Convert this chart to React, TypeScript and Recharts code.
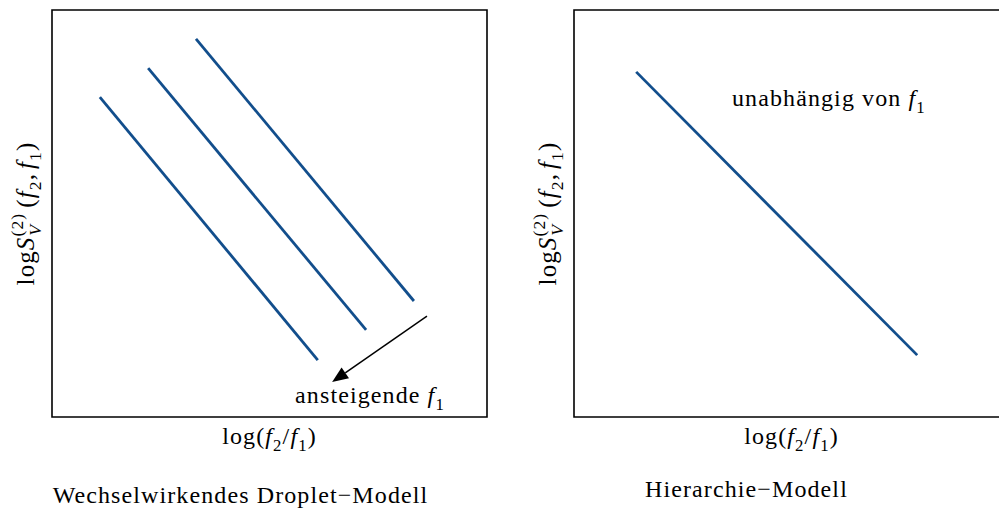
import React from "react";
import {
  LineChart,
  Line,
  XAxis,
  YAxis,
  ReferenceArea,
  ReferenceLine,
  ReferenceDot,
} from "recharts";

// values, both axes in arbitrary units 0..10
const dropletLow = [
  { x: 1.1, y: 7.86 },
  { x: 6.11, y: 1.4 },
];
const dropletMid = [
  { x: 2.21, y: 8.57 },
  { x: 7.22, y: 2.14 },
];
const dropletHigh = [
  { x: 3.31, y: 9.29 },
  { x: 8.32, y: 2.85 },
];
const hierarchyLine = [
  { x: 1.43, y: 8.48 },
  { x: 7.89, y: 1.52 },
];
const arrowSegment = [
  { x: 8.62, y: 2.48 },
  { x: 6.44, y: 0.86 },
];

const FONT = "'Liberation Serif', 'DejaVu Serif', serif";
const BLUE = "#124e8c";
const SIZE = 24;
const SPACING = 1.1;

type Seg = { t: string; i?: boolean; sub?: boolean; sup?: boolean; dx?: number };

const xLabelSegs: Seg[] = [
  { t: "log(" },
  { t: "f", i: true },
  { t: "2", sub: true },
  { t: "/" },
  { t: "f", i: true },
  { t: "1", sub: true },
  { t: ")" },
];
const yLabelSegs: Seg[] = [
  { t: "log" },
  { t: "S", i: true },
  { t: "(2)", sup: true },
  { t: "V", i: true, sub: true, dx: -23 },
  { t: " (", dx: 9 },
  { t: "f", i: true },
  { t: "2", sub: true },
  { t: "," },
  { t: "f", i: true, dx: 4 },
  { t: "1", sub: true },
  { t: ")" },
];

function MathText({ x, y, segs, size = SIZE, anchor = "middle", rotate = false }: any) {
  let shift = 0;
  const spans = segs.map((s: Seg, k: number) => {
    const target = s.sub ? size * 0.28 : s.sup ? -size * 0.45 : 0;
    const dy = target - shift;
    shift = target;
    return (
      <tspan
        key={k}
        dy={dy}
        dx={s.dx}
        fontStyle={s.i ? "italic" : "normal"}
        fontSize={s.sub || s.sup ? size * 0.7 : size}
      >
        {s.t}
      </tspan>
    );
  });
  return (
    <text
      x={x}
      y={y}
      textAnchor={anchor}
      fontFamily={FONT}
      fontSize={size}
      letterSpacing={SPACING}
      fill="#000"
      transform={rotate ? `rotate(-90 ${x} ${y})` : undefined}
    >
      {spans}
    </text>
  );
}

function XLabel({ viewBox, title, titleDx, titleDy }: any) {
  const cx = viewBox.x + viewBox.width / 2;
  return (
    <g>
      <MathText x={cx} y={viewBox.y + 27} segs={xLabelSegs} />
      <text
        x={cx + titleDx}
        y={viewBox.y + titleDy}
        textAnchor="middle"
        fontFamily={FONT}
        fontSize={SIZE}
        letterSpacing={SPACING}
        fill="#000"
      >
        {title}
      </text>
    </g>
  );
}

function YLabel({ viewBox }: any) {
  return (
    <MathText
      x={viewBox.x + 34}
      y={viewBox.y + viewBox.height / 2}
      segs={yLabelSegs}
      size={25}
      rotate
    />
  );
}

function NoteLabel({ viewBox, text }: any) {
  return (
    <MathText
      x={viewBox.x}
      y={viewBox.y}
      segs={[{ t: text + " " }, { t: "f", i: true }, { t: "1", sub: true }]}
    />
  );
}

function Arrow(props: any) {
  const { x1, y1, x2, y2 } = props;
  const a = Math.atan2(y2 - y1, x2 - x1);
  const len = 16;
  const hw = 6.5;
  const bx = x2 - len * Math.cos(a);
  const by = y2 - len * Math.sin(a);
  const px = -Math.sin(a) * hw;
  const py = Math.cos(a) * hw;
  return (
    <g>
      <line x1={x1} y1={y1} x2={bx} y2={by} stroke="#000" strokeWidth={1.5} />
      <polygon
        points={`${x2},${y2} ${bx + px},${by + py} ${bx - px},${by - py}`}
        fill="#000"
      />
    </g>
  );
}

function Panel({ width, lines, title, titleDx, titleDy, children }: any) {
  return (
    <LineChart
      width={width}
      height={510}
      margin={{ top: 10, right: width === 500 ? 13 : 0, bottom: 0, left: 0 }}
    >
      <XAxis
        type="number"
        dataKey="x"
        domain={[0, 10]}
        allowDataOverflow
        tick={false}
        tickLine={false}
        axisLine={false}
        height={93}
        label={<XLabel title={title} titleDx={titleDx} titleDy={titleDy} />}
      />
      <YAxis
        type="number"
        dataKey="y"
        domain={[0, 10]}
        allowDataOverflow
        tick={false}
        tickLine={false}
        axisLine={false}
        width={52}
        label={<YLabel />}
      />
      <ReferenceArea
        x1={0}
        x2={10}
        y1={0}
        y2={10}
        fill="none"
        fillOpacity={0}
        stroke="#000"
        strokeWidth={1.6}
      />
      {lines.map((d: any, k: number) => (
        <Line
          key={k}
          data={d}
          dataKey="y"
          type="linear"
          stroke={BLUE}
          strokeWidth={2.8}
          dot={false}
          isAnimationActive={false}
        />
      ))}
      {children}
    </LineChart>
  );
}

export default function App() {
  return (
    <div
      style={{
        position: "absolute",
        left: 0,
        top: 0,
        width: 999,
        height: 510,
        overflow: "hidden",
        background: "#fff",
      }}
    >
      <div style={{ position: "absolute", left: 0, top: 0 }}>
        <Panel
          width={500}
          lines={[dropletLow, dropletMid, dropletHigh]}
          title="Wechselwirkendes Droplet−Modell"
          titleDx={-29}
          titleDy={86}
        >
          <ReferenceLine segment={arrowSegment} shape={<Arrow />} />
          <ReferenceDot
            x={7.31}
            y={0.34}
            r={0}
            fill="none"
            stroke="none"
            label={<NoteLabel text="ansteigende" />}
          />
        </Panel>
      </div>
      <div style={{ position: "absolute", left: 522, top: 0 }}>
        <Panel
          width={487}
          lines={[hierarchyLine]}
          title="Hierarchie−Modell"
          titleDx={-45}
          titleDy={80}
        >
          <ReferenceDot
            x={5.86}
            y={7.64}
            r={0}
            fill="none"
            stroke="none"
            label={<NoteLabel text="unabhängig von" />}
          />
        </Panel>
      </div>
    </div>
  );
}
